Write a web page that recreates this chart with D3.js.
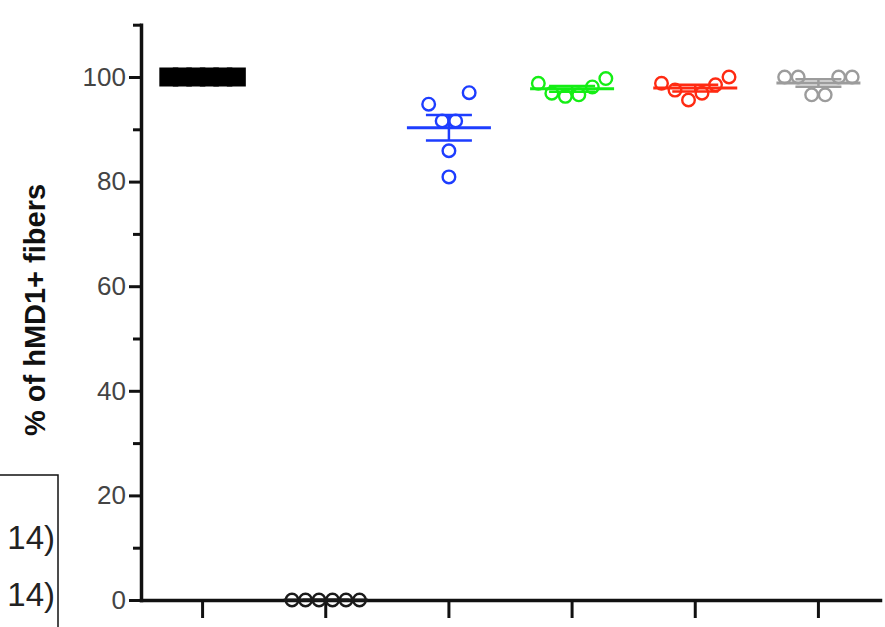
<!DOCTYPE html>
<html>
<head>
<meta charset="utf-8">
<script src="https://d3js.org/d3.v7.min.js"></script>
<style>
  html, body { margin: 0; padding: 0; background: #fff; }
  svg { display: block; }
  .axis .domain { stroke: #111; stroke-width: 3.5; stroke-linecap: square; }
  .axis .tick line { stroke: #111; stroke-width: 3; }
  .axis text { font-family: "Liberation Sans", Arial, sans-serif; font-size: 26px; fill: #444; }
</style>
</head>
<body>
<div class="chart"></div>
<script>
var categories  = ["ctrl", "neg", "blue", "green", "red", "grey"];
var ctrlValues  = [100, 100, 100, 100, 100, 100];
var negValues   = [0, 0, 0, 0, 0, 0];
var blueValues  = [97.0, 94.8, 91.6, 91.6, 85.9, 80.9];
var greenValues = [98.8, 96.9, 96.3, 96.6, 98.1, 99.7];
var redValues   = [98.8, 97.5, 95.6, 96.9, 98.5, 100];
var greyValues  = [100, 100, 96.6, 96.6, 100, 100];
var majorTicks  = [0, 20, 40, 60, 80, 100];
var minorTicks  = [10, 30, 50, 70, 90, 110];
var yLabel      = "% of hMD1+ fibers";
var legendLabels = ["14)", "14)"];

var series = [ctrlValues, negValues, blueValues, greenValues, redValues, greyValues];
var colors = ["#000", "#1a1a1a", "#1d3dff", "#14ee14", "#ff2a12", "#9c9c9c"];

var width = 885, height = 627;
var svg = d3.select(".chart").append("svg").attr("width", width).attr("height", height);

var y = d3.scaleLinear().domain([0, 110]).range([600, 24.7]);
var x = d3.scaleBand().domain(categories).range([141, 880]);

// prism-like horizontal spread: points close in value share a row, highest outermost
function swarm(values) {
  var step = 13.5, gap = 20;
  var idx = d3.range(values.length).sort(function(a, b) { return values[b] - values[a]; });
  var out = [], clusters = [], cur = [];
  idx.forEach(function(i, k) {
    if (k > 0 && y(values[i]) - y(values[idx[k - 1]]) > gap) { clusters.push(cur); cur = []; }
    cur.push(i);
  });
  clusters.push(cur);
  clusters.forEach(function(c) {
    var n = c.length;
    c.forEach(function(i, k) {
      var p = Math.floor(k / 2), side = k % 2 === 0 ? 1 : -1;
      out[i] = side * ((n - 1) / 2 - p) * step;
    });
  });
  return out;
}

// axes
svg.append("g").attr("class", "axis").attr("transform", "translate(141,0)")
  .call(d3.axisLeft(y).tickValues(majorTicks).tickSize(12).tickPadding(3).tickSizeOuter(0));
var minor = svg.append("g").attr("class", "axis").attr("transform", "translate(141,0)")
  .call(d3.axisLeft(y).tickValues(minorTicks).tickSize(8).tickFormat("").tickSizeOuter(0));
minor.select(".domain").remove();
svg.append("g").attr("class", "axis").attr("transform", "translate(0,600)")
  .call(d3.axisBottom(x).tickSize(18).tickFormat("").tickSizeOuter(0));

svg.append("text")
  .attr("transform", "translate(45,310) rotate(-90)")
  .attr("text-anchor", "middle")
  .style("font-family", "'Liberation Sans', Arial, sans-serif")
  .style("font-weight", "bold")
  .style("font-size", "29px")
  .style("fill", "#111")
  .text(yLabel);

// mean +- sem
series.forEach(function(vals, gi) {
  var cx = x(categories[gi]) + x.bandwidth() / 2;
  var m = d3.mean(vals), sem = (d3.deviation(vals) || 0) / Math.sqrt(vals.length);
  var g = svg.append("g").attr("stroke", colors[gi]).attr("fill", "none");
  g.append("line").attr("x1", cx - 42).attr("x2", cx + 42)
    .attr("y1", y(m)).attr("y2", y(m)).attr("stroke-width", 3);
  g.append("line").attr("x1", cx).attr("x2", cx)
    .attr("y1", y(m - sem)).attr("y2", y(m + sem)).attr("stroke-width", 2.5);
  [m - sem, m + sem].forEach(function(v) {
    g.append("line").attr("x1", cx - 23).attr("x2", cx + 23)
      .attr("y1", y(v)).attr("y2", y(v)).attr("stroke-width", 2.5);
  });
});

// points
series.forEach(function(vals, gi) {
  var cx = x(categories[gi]) + x.bandwidth() / 2;
  var off = swarm(vals);
  if (gi === 0) {
    svg.append("g").selectAll("rect").data(vals).enter().append("rect")
      .attr("x", function(d, i) { return cx + off[i] - 9.5; })
      .attr("y", function(d) { return y(d) - 9.5; })
      .attr("width", 19).attr("height", 19)
      .attr("fill", colors[gi]);
  } else {
    svg.append("g").selectAll("circle").data(vals).enter().append("circle")
      .attr("cx", function(d, i) { return cx + off[i]; })
      .attr("cy", function(d) { return y(d); })
      .attr("r", 6.3)
      .attr("fill", "none")
      .attr("stroke", colors[gi])
      .attr("stroke-width", 2.4);
  }
});

// clipped legend box on the left
var legend = svg.append("g");
legend.append("rect").attr("x", -20).attr("y", 475).attr("width", 78).attr("height", 200)
  .attr("fill", "none").attr("stroke", "#111").attr("stroke-width", 1.5);
legend.selectAll("text").data(legendLabels).enter().append("text")
  .attr("x", 55)
  .attr("y", function(d, i) { return 549 + i * 57; })
  .attr("text-anchor", "end")
  .style("font-family", "'Liberation Sans', Arial, sans-serif")
  .style("font-size", "33px")
  .style("fill", "#222")
  .text(function(d) { return d; });
</script>
</body>
</html>
